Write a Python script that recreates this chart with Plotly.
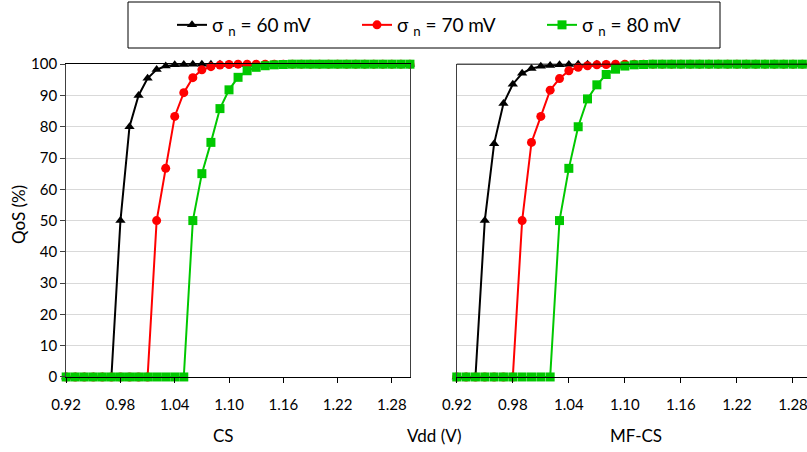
import plotly.graph_objects as go

# Vdd (V), passo 0.01
vdd = [round(0.92 + 0.01 * i, 2) for i in range(39)]

# CS
cs_60 = [0, 0, 0, 0, 0, 0, 50, 80, 90, 95.5, 98.3, 99.4, 99.8, 99.9] + [100] * 25
cs_70 = [0] * 10 + [50, 66.7, 83.3, 90.9, 95.7, 98.2, 99.2, 99.7, 99.9] + [100] * 20
cs_80 = [0] * 14 + [50, 65, 75, 85.8, 91.8, 95.8, 97.9, 99, 99.5, 99.8, 99.9] + [100] * 14

# MF-CS
mf_60 = [0, 0, 0, 50, 74.6, 87.4, 93.6, 97.1, 98.6, 99.3, 99.6, 99.8, 99.9] + [100] * 26
mf_70 = [0] * 7 + [50, 75, 83.3, 91.7, 95.4, 97.9, 99, 99.5, 99.8, 99.9] + [100] * 22
mf_80 = [0] * 11 + [50, 66.7, 80, 88.9, 93.4, 96.7, 98.4, 99.4, 99.8, 99.9] + [100] * 19

nomi = ["σ <sub>n</sub> = 60 mV", "σ <sub>n</sub> = 70 mV", "σ <sub>n</sub> = 80 mV"]
colori = ["#000000", "#FF0000", "#00C800"]
simboli = ["triangle-up", "circle", "square"]
x_ticks = [0.92, 0.98, 1.04, 1.10, 1.16, 1.22, 1.28]
x_ticktext = ["0.92", "0.98", "1.04", "1.10", "1.16", "1.22", "1.28"]

font_base = "Lato, 'Open Sans', sans-serif"

fig = go.Figure()

for i, serie in enumerate([cs_60, cs_70, cs_80]):
    fig.add_trace(go.Scatter(
        x=vdd, y=serie, mode="lines+markers", name=nomi[i],
        line=dict(color=colori[i], width=2),
        marker=dict(symbol=simboli[i], size=9, color=colori[i]),
        xaxis="x", yaxis="y", cliponaxis=False, legendgroup=str(i),
    ))

for i, serie in enumerate([mf_60, mf_70, mf_80]):
    fig.add_trace(go.Scatter(
        x=vdd, y=serie, mode="lines+markers", name=nomi[i],
        line=dict(color=colori[i], width=2),
        marker=dict(symbol=simboli[i], size=9, color=colori[i]),
        xaxis="x2", yaxis="y2", cliponaxis=False, legendgroup=str(i),
        showlegend=False,
    ))

asse_x = dict(
    tickmode="array", tickvals=x_ticks, ticktext=x_ticktext,
    showgrid=False, zeroline=False, automargin=False,
    showline=True, linecolor="black", linewidth=1,
    ticks="outside", ticklen=5, tickcolor="black",
    tickfont=dict(size=15, color="black"), ticklabelstandoff=9,
    ticklabeloverflow="allow",
)
asse_y = dict(
    range=[0, 100], tickmode="array", tickvals=list(range(0, 101, 10)),
    showgrid=True, gridcolor="#D9D9D9", gridwidth=1, zeroline=False, automargin=False,
    showline=True, linecolor="#404040", linewidth=1,
    ticks="outside", ticklen=5, tickcolor="#404040",
    tickfont=dict(size=15, color="black"),
)

fig.update_layout(
    width=807, height=452,
    margin=dict(l=0, r=0, t=0, b=0, autoexpand=False),
    paper_bgcolor="white", plot_bgcolor="white",
    font=dict(family=font_base, color="black"),
    xaxis=dict(asse_x, domain=[0.082, 0.508], range=[0.92, 1.30], mirror=True, anchor="y"),
    yaxis=dict(asse_y, domain=[0.166, 0.858], mirror=True, anchor="x"),
    xaxis2=dict(asse_x, domain=[0.566, 1.0], range=[0.92, 1.295], anchor="y2"),
    yaxis2=dict(asse_y, domain=[0.166, 0.858], showticklabels=False, ticks="", anchor="x2"),
    legend=dict(
        orientation="h", x=172 / 807, xanchor="left", y=1 - 25 / 452, yanchor="middle",
        borderwidth=0, bgcolor="rgba(0,0,0,0)",
        font=dict(size=19, color="black"), entrywidth=140,
    ),
    showlegend=True,
)

# cornice della legenda
fig.add_shape(type="rect", xref="paper", yref="paper",
              x0=128 / 807, x1=720 / 807, y0=1 - 48 / 452, y1=1 - 2 / 452,
              line=dict(color="black", width=1), fillcolor="white", layer="below")

# bordo superiore del secondo grafico
fig.add_shape(type="line", xref="x2 domain", yref="y2 domain", x0=0, x1=1, y0=1, y1=1,
              line=dict(color="black", width=1))

testi = [("QoS (%)", 18, 215, -90), ("CS", 223, 435, 0),
         ("Vdd (V)", 434, 435, 0), ("MF-CS", 636, 435, 0)]
for testo, px, py, ang in testi:
    fig.add_annotation(text=testo, x=px / 807, y=1 - py / 452, xref="paper", yref="paper",
                       xanchor="center", yanchor="middle", textangle=ang,
                       showarrow=False, font=dict(size=17))

fig.write_html("out.html", post_script="document.body.style.margin='0px';",
               config={"displayModeBar": False})
